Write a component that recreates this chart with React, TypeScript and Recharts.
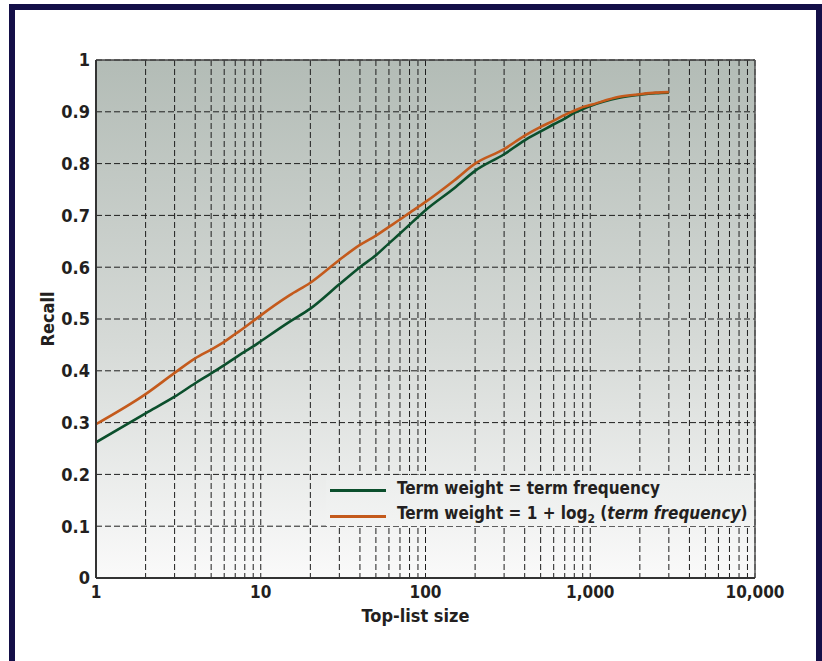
import React from 'react';
import {
  LineChart,
  Line,
  XAxis,
  YAxis,
  CartesianGrid,
  ReferenceLine,
  Legend
} from 'recharts';

// top-list sizes (log axis)
const listSizes = [1, 2, 3, 4, 5, 6, 7, 8, 9, 10, 15, 20, 30, 40, 50, 60, 70, 80, 90, 100, 150, 200, 300, 400, 500, 600, 700, 800, 900, 1000, 1500, 2000, 2500, 3000];

// recall, term weight = term frequency
const recallTf = [0.262, 0.318, 0.35, 0.376, 0.395, 0.411, 0.425, 0.437, 0.447, 0.457, 0.495, 0.52, 0.567, 0.6, 0.623, 0.646, 0.665, 0.682, 0.697, 0.71, 0.753, 0.786, 0.818, 0.845, 0.862, 0.876, 0.887, 0.898, 0.905, 0.911, 0.927, 0.933, 0.936, 0.937];

// recall, term weight = 1 + log2(term frequency)
const recallLogTf = [0.297, 0.355, 0.396, 0.424, 0.441, 0.456, 0.471, 0.484, 0.496, 0.507, 0.546, 0.57, 0.614, 0.643, 0.661, 0.678, 0.692, 0.705, 0.716, 0.726, 0.768, 0.8, 0.828, 0.854, 0.871, 0.883, 0.894, 0.902, 0.909, 0.913, 0.929, 0.934, 0.937, 0.938];

const xTicks = [
  1, 2, 3, 4, 5, 6, 7, 8, 9,
  10, 20, 30, 40, 50, 60, 70, 80, 90,
  100, 200, 300, 400, 500, 600, 700, 800, 900,
  1000, 2000, 3000, 4000, 5000, 6000, 7000, 8000, 9000,
  10000
];
const xLabels = [1, 10, 100, 1000, 10000];
const yTicks = [0, 0.1, 0.2, 0.3, 0.4, 0.5, 0.6, 0.7, 0.8, 0.9, 1];

const GREEN = '#0b4f2c';
const ORANGE = '#c45a1c';
const TEXT = '#231f20';
const FONT = "'DejaVu Sans Condensed', 'Liberation Sans Narrow', sans-serif";

const data = listSizes.map((size, i) => ({
  size,
  tf: recallTf[i],
  logTf: recallLogTf[i]
}));

const LegendBox = () => (
  <div
    style={{
      fontFamily: FONT,
      fontWeight: 'bold',
      fontSize: 17,
      color: TEXT,
      lineHeight: '25px',
      paddingLeft: 4,
      paddingTop: 1,
      whiteSpace: 'nowrap'
    }}
  >
    <div style={{ display: 'flex', alignItems: 'center' }}>
      <span style={{ display: 'inline-block', width: 56, height: 3, background: GREEN, marginRight: 11, marginTop: 4 }} />
      <span>Term weight = term frequency</span>
    </div>
    <div style={{ display: 'flex', alignItems: 'center' }}>
      <span style={{ display: 'inline-block', width: 56, height: 3, background: ORANGE, marginRight: 11, marginTop: 6 }} />
      <span>
        Term weight = 1 + log<sub style={{ fontSize: 12, lineHeight: 0 }}>2</sub> (<i>term frequency</i>)
      </span>
    </div>
  </div>
);

export default function App() {
  return (
    <div style={{ position: 'absolute', left: 0, top: 0, width: 822, height: 661, background: '#fff', overflow: 'hidden' }}>
      <div
        style={{
          position: 'absolute',
          left: 9,
          top: 4,
          width: 813,
          height: 720,
          border: '6px solid #140f48',
          boxSizing: 'border-box'
        }}
      />
      <div style={{ position: 'absolute', left: 0, top: 0 }}>
        <LineChart width={822} height={661} data={data} margin={{ top: 60, right: 67, bottom: 33, left: 0 }}>
          <defs>
            <linearGradient id="plotBg" x1="0" y1="0" x2="0" y2="1">
              <stop offset="0%" stopColor="#b3bcb6" />
              <stop offset="55%" stopColor="#d6dad7" />
              <stop offset="100%" stopColor="#fafafa" />
            </linearGradient>
          </defs>
          <CartesianGrid fill="url(#plotBg)" stroke="#1e1e1e" strokeDasharray="6 3" strokeWidth={1} />
          <XAxis
            dataKey="size"
            type="number"
            scale="log"
            domain={[1, 10000]}
            allowDataOverflow
            ticks={xTicks}
            interval={0}
            tickLine={false}
            axisLine={{ stroke: '#333', strokeWidth: 2 }}
            tickFormatter={(v: number) => (xLabels.includes(v) ? v.toLocaleString('en-US') : '')}
            tick={{ fill: TEXT, fontSize: 17, fontWeight: 'bold', fontFamily: FONT }}
            height={50}
            label={{ value: 'Top-list size', position: 'insideBottom', offset: 6, dx: -10, fill: TEXT, fontSize: 18, fontWeight: 'bold', fontFamily: FONT }}
          />
          <YAxis
            type="number"
            domain={[0, 1]}
            ticks={yTicks}
            interval={0}
            width={96}
            tickLine={false}
            tickMargin={0}
            axisLine={{ stroke: '#333', strokeWidth: 2 }}
            tickFormatter={(v: number) => String(v)}
            tick={{ fill: TEXT, fontSize: 18, fontWeight: 'bold', fontFamily: FONT }}
            label={{ value: 'Recall', angle: -90, position: 'center', dx: 0, fill: TEXT, fontSize: 18, fontWeight: 'bold', fontFamily: FONT }}
          />
          <ReferenceLine y={1} stroke="#444" strokeWidth={1.5} />
          <ReferenceLine x={10000} stroke="#555" strokeWidth={1.5} />
          <Line
            type="monotone"
            dataKey="tf"
            stroke={GREEN}
            strokeWidth={2.6}
            dot={false}
            isAnimationActive={false}
            name="Term weight = term frequency"
          />
          <Line
            type="monotone"
            dataKey="logTf"
            stroke={ORANGE}
            strokeWidth={2.6}
            dot={false}
            isAnimationActive={false}
            name="Term weight = 1 + log2 (term frequency)"
          />
          <Legend
            layout="horizontal"
            verticalAlign="middle"
            align="center"
            content={<LegendBox />}
            wrapperStyle={{
              left: 326,
              top: 475,
              width: 428,
              height: 51,
              background: 'linear-gradient(#eceeed, #f2f3f2)'
            }}
          />
        </LineChart>
      </div>
    </div>
  );
}
